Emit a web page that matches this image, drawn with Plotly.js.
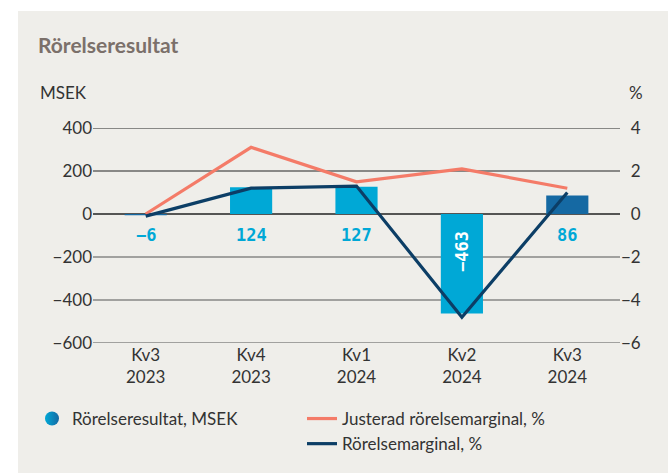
<!DOCTYPE html>
<html>
<head>
<meta charset="utf-8">
<script src="https://cdn.plot.ly/plotly-3.0.1.min.js"></script>
<style>
html,body{margin:0;padding:0;background:#ffffff;}
#chart{position:absolute;left:18px;top:11px;width:650px;height:462px;}
</style>
</head>
<body>
<div id="chart"></div>
<script>
// ---- data ----
const quarters = ["Kv3<br>2023", "Kv4<br>2023", "Kv1<br>2024", "Kv2<br>2024", "Kv3<br>2024"];
const rorelseresultat = [-6, 124, 127, -463, 86];           // MSEK
const justeradMarginal = [0.0, 3.1, 1.5, 2.1, 1.2];          // %
const rorelsemarginal = [-0.1, 1.2, 1.3, -4.8, 1.0];         // %
const barColors = ["#1569a3", "#00a8d6", "#00a8d6", "#00a8d6", "#1569a3"];
const leftTicks = [-600, -400, -200, 0, 200, 400];
const rightTicks = [-6, -4, -2, 0, 2, 4];

const fontFam = "Lato, 'Open Sans', sans-serif";
const txt = "#333333";

const fmt = v => (v < 0 ? "\u2212" + Math.abs(v) : String(v));

const traces = [
  {
    type: "bar", x: quarters, y: rorelseresultat,
    marker: {color: barColors}, width: 0.4,
    showlegend: false, hoverinfo: "skip", yaxis: "y"
  },
  {
    type: "scatter", mode: "markers", x: [null], y: [null],
    name: "Rörelseresultat, MSEK", legend: "legend",
    marker: {symbol: "circle", size: 14, color: "#00a8d6",
             gradient: {type: "horizontal", color: "#1569a3"}, line: {width: 0}}
  },
  {
    type: "scatter", mode: "lines", x: quarters, y: justeradMarginal, yaxis: "y2",
    name: "Justerad rörelsemarginal, %", legend: "legend2",
    line: {color: "#f47b68", width: 3.2}
  },
  {
    type: "scatter", mode: "lines", x: quarters, y: rorelsemarginal, yaxis: "y2",
    name: "Rörelsemarginal, %", legend: "legend2",
    line: {color: "#0c3e66", width: 3.2}
  }
];

const annotations = [];
rorelseresultat.forEach((v, i) => {
  if (v < -200) {
    annotations.push({
      x: quarters[i], y: 0, xref: "x", yref: "y", text: "<b>" + fmt(v) + "</b>",
      showarrow: false, textangle: -90, yanchor: "middle", yshift: -37,
      font: {family: "'DejaVu Sans Mono', monospace", size: 17, color: "#ffffff"}
    });
  } else {
    annotations.push({
      x: quarters[i], y: 0, xref: "x", yref: "y", text: "<b>" + fmt(v) + "</b>",
      showarrow: false, yanchor: "middle", yshift: -21,
      font: {family: "'DejaVu Sans Mono', monospace", size: 17, color: "#00a8d6"}
    });
  }
});
annotations.push({
  text: "MSEK", xref: "paper", yref: "paper", x: -55/527, y: 1 + 36/215,
  xanchor: "left", yanchor: "middle", showarrow: false,
  font: {family: fontFam, size: 17, color: txt}
});
annotations.push({
  text: "%", xref: "paper", yref: "paper", x: 1 + 16/527, y: 1 + 36/215,
  xanchor: "center", yanchor: "middle", showarrow: false,
  font: {family: fontFam, size: 17, color: txt}
});

// horizontal grid lines at the left-axis tick values
const gridShapes = leftTicks.map(t => ({
  type: "line", xref: "paper", x0: 0, x1: 1, yref: "y", y0: t, y1: t,
  layer: "below",
  line: {color: t < 0 ? "#555555" : "#222222", width: t === 0 ? 1.4 : 1.1}
}));

const layout = {
  width: 650, height: 462,
  paper_bgcolor: "#efeeea", plot_bgcolor: "#efeeea",
  margin: {l: 75, r: 48, t: 117, b: 130, autoexpand: false},
  title: {
    text: "<b>Rörelseresultat</b>", xref: "container", yref: "container",
    x: 20/650, xanchor: "left", y: 1 - 35/462, yanchor: "middle",
    font: {family: fontFam, size: 21, color: "#7b706a"}
  },
  xaxis: {
    type: "category", range: [-0.5, 4.5], showgrid: false, zeroline: false,
    showline: false, ticks: "", tickangle: 0, automargin: false,
    tickfont: {family: fontFam, size: 17, color: txt}
  },
  yaxis: {
    range: [-600, 400], tickmode: "array", tickvals: leftTicks, ticktext: leftTicks.map(fmt),
    showgrid: false, automargin: false, zeroline: false,
    showline: false, ticks: "", tickfont: {family: fontFam, size: 17, color: txt}
  },
  yaxis2: {
    range: [-6, 4], overlaying: "y", side: "right", automargin: false,
    tickmode: "array", tickvals: rightTicks,
    ticktext: rightTicks.map(v => (v < 0 ? fmt(v) : "\u2007" + v)),
    showgrid: false, zeroline: false, showline: false, ticks: "",
    tickfont: {family: fontFam, size: 17, color: txt}
  },
  legend: {
    x: -61/527, y: -58/215,
    xanchor: "left", yanchor: "top", orientation: "v",
    bgcolor: "rgba(0,0,0,0)", font: {family: fontFam, size: 17, color: txt}
  },
  legend2: {
    x: 209/527, y: -58/215,
    xanchor: "left", yanchor: "top", orientation: "v",
    bgcolor: "rgba(0,0,0,0)", font: {family: fontFam, size: 17, color: txt}
  },
  shapes: gridShapes,
  annotations: annotations,
  showlegend: true,
  hovermode: false
};

Plotly.newPlot("chart", traces, layout, {displayModeBar: false, staticPlot: true});
</script>
</body>
</html>
